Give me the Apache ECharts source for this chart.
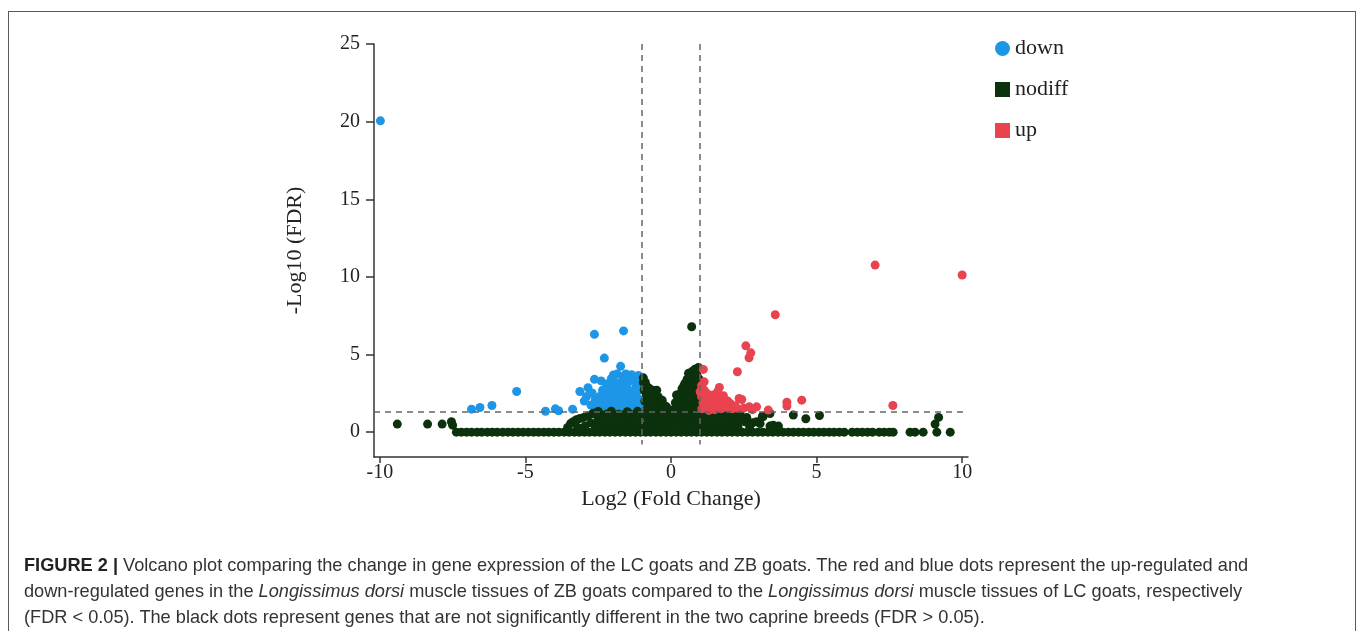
<!DOCTYPE html>
<html>
<head>
<meta charset="utf-8">
<script src="https://cdn.jsdelivr.net/npm/echarts@6/dist/echarts.min.js"></script>
<style>
  html, body { margin: 0; padding: 0; background: #fff; width: 1360px; height: 631px; overflow: hidden; }
  #frame { position: absolute; left: 8px; top: 11px; width: 1346px; height: 700px; border: 1.5px solid #5a5a5a; border-bottom: none; }
  #chart { position: absolute; left: 0; top: 0; width: 1360px; height: 631px; }
  #caption { position: absolute; left: 24px; top: 552px; font-family: "Liberation Sans", Arial, sans-serif; font-size: 18.2px; line-height: 26px; color: #333; white-space: nowrap; }
  #caption b { color: #222; }
</style>
</head>
<body>
<div id="frame"></div>
<div id="chart"></div>
<div id="caption"><b>FIGURE 2 |</b> Volcano plot comparing the change in gene expression of the LC goats and ZB goats. The red and blue dots represent the up-regulated and<br>down-regulated genes in the <i>Longissimus dorsi</i> muscle tissues of ZB goats compared to the <i>Longissimus dorsi</i> muscle tissues of LC goats, respectively<br>(FDR &lt; 0.05). The black dots represent genes that are not significantly different in the two caprine breeds (FDR &gt; 0.05).</div>
<script>
// ---- tick labels ----
const xTicks = [-10, -5, 0, 5, 10];
const yTicks = [0, 5, 10, 15, 20, 25];
const fcCut = [-1, 1];
const fdrCut = 1.301;

// ---- down-regulated genes [log2FC, -log10FDR] ----
const downPoints = [
  [-9.98,20.05],
  [-6.85,1.48],[-6.56,1.59],[-6.15,1.72],[-5.3,2.62],[-4.31,1.35],[-3.97,1.5],[-3.86,1.38],[-3.38,1.48],
  [-2.63,6.3],[-1.63,6.52],[-2.29,4.77],[-1.73,4.24],
  [-2.63,3.4],[-2.21,3.1],[-3.13,2.62],[-2.85,2.86],[-2.71,2.52],[-2.98,2.0],[-2.56,1.53],[-2.39,1.59],
  [-1.98,3.68],[-1.66,3.35],[-1.46,3.57],[-1.24,3.46],
  [-2.5,1.9],[-2.45,2.3],[-2.4,1.45],[-2.35,2.7],[-2.3,2.05],[-2.25,1.6],[-2.2,2.45],[-2.15,1.85],
  [-2.1,2.9],[-2.05,2.2],[-2.0,1.5],[-1.95,2.6],[-1.9,3.2],[-1.9,1.8],[-1.85,2.35],[-1.8,3.0],
  [-1.8,1.55],[-1.75,2.75],[-1.7,2.05],[-1.65,3.6],[-1.65,1.45],[-1.6,2.5],[-1.55,3.15],[-1.55,1.85],
  [-1.5,2.25],[-1.5,2.85],[-1.45,1.5],[-1.4,3.3],[-1.4,2.6],[-1.35,2.0],[-1.3,3.55],[-1.3,1.65],
  [-1.25,2.4],[-1.2,2.95],[-1.2,1.9],[-1.15,3.25],[-1.15,2.2],[-1.1,1.5],[-1.1,2.7],[-1.08,3.5],
  [-1.06,2.0],[-1.05,1.6],[-1.05,3.0],
  [-2.6,2.1],[-2.75,1.75],[-2.9,2.3],[-2.4,3.3],[-2.05,3.45],[-1.85,3.75],[-1.55,3.75],[-1.35,3.7],[-1.12,3.65]
];

// ---- not differential: outliers and the baseline row ----
const nodiffOutliers = [
  [-9.4,0.52],[-8.36,0.52],[-7.86,0.52],[-7.54,0.67],[-7.5,0.45],
  [9.07,0.52],[9.19,0.95],[8.21,0],[8.38,0],[8.66,0],[9.13,0],[9.59,0],
  [2.54,0.67],[2.8,0.6],[2.94,0.67],[3.06,0.55],[3.16,0.99],[2.37,1.2],[3.4,1.2],[3.51,0.45],
  [3.4,0.39],[3.69,0.39],[3.14,1.03],[4.2,1.1],[4.63,0.86],[5.1,1.07],[2.6,0.95],[2.7,0.35],
  [0.71,6.79]
];
const nodiffBaseX = [
  -7.37,-7.2,-7.02,-6.85,-6.66,-6.5,-6.31,-6.14,-5.97,-5.78,-5.6,-5.43,-5.25,-5.08,-4.9,-4.72,
  -4.55,-4.37,-4.2,-4.02,-3.85,-3.67,-3.5,-3.32,-3.15,-2.97,-2.8,-2.62,-2.45,-2.27,-2.1,-1.92,
  -1.75,-1.57,-1.4,-1.22,-1.05,-0.87,-0.7,-0.52,-0.35,-0.17,0,0.18,0.35,0.53,0.7,0.88,1.05,1.23,
  1.4,1.58,1.75,1.93,2.1,2.28,2.45,2.63,2.8,2.98,3.15,3.33,3.5,3.68,3.85,4.03,4.2,4.38,4.55,4.73,
  4.9,5.08,5.25,5.43,5.6,5.78,5.95,6.22,6.4,6.57,6.75,6.92,7.15,7.32,7.5,7.63
];
// ---- not differential: central clouds ----
const nodiffCloud = [
  [-3.55,0.3],[-3.45,0.55],[-3.36,0.67],[-3.25,0.8],[-3.13,0.88],[-3.0,0.95],[-2.85,1.05],[-2.68,1.22],
  [-2.75,0.6],[-2.95,0.4],[-3.2,0.3],
  [-2.6,0.35],[-2.4,0.38],[-2.2,0.33],[-2.0,0.36],[-1.8,0.34],[-1.6,0.37],[-1.4,0.35],[-1.2,0.33],[-1.0,0.36],
  [-2.5,0.75],[-2.3,0.72],[-2.1,0.77],[-1.9,0.74],[-1.7,0.76],[-1.5,0.73],[-1.3,0.75],[-1.1,0.78],
  [-2.6,1.15],[-2.4,1.12],[-2.2,1.17],[-2.0,1.14],[-1.8,1.16],[-1.6,1.13],[-1.4,1.15],[-1.2,1.18],[-1.0,1.14],
  [-2.5,1.33],[-2.05,1.35],[-1.5,1.32],[-1.15,1.34],
  [-0.95,3.5],[-0.88,3.2],[-0.92,2.7],[-0.8,2.9],[-0.85,2.3],[-0.75,2.55],[-0.7,2.1],[-0.62,2.7],
  [-0.55,2.4],[-0.49,2.7],[-0.44,2.28],[-0.38,1.95],[-0.3,2.05],[-0.22,1.7],[-0.15,1.63],[-0.08,1.3],
  [0.0,1.1],[0.08,1.45],[0.15,1.9],[0.19,2.39],[0.25,2.1],[0.32,2.5],[0.38,2.8],[0.44,3.0],[0.48,3.14],
  [0.55,3.4],[0.6,3.79],[0.66,3.55],[0.72,3.9],[0.82,4.05],[0.88,3.7],[0.94,4.17],[0.97,3.4],
  [-0.9,0.4],[-0.7,0.42],[-0.5,0.38],[-0.3,0.41],[-0.1,0.39],[0.1,0.4],[0.3,0.42],[0.5,0.38],[0.7,0.41],[0.9,0.4],
  [-0.8,0.8],[-0.6,0.78],[-0.4,0.82],[-0.2,0.79],[0.0,0.8],[0.2,0.81],[0.4,0.78],[0.6,0.8],[0.8,0.82],[1.0,0.79],
  [-0.9,1.2],[-0.7,1.22],[-0.5,1.18],[-0.3,1.21],[-0.1,1.19],[0.1,1.2],[0.3,1.22],[0.5,1.18],[0.7,1.21],[0.9,1.2],
  [-0.8,1.6],[-0.6,1.62],[-0.4,1.58],[-0.25,1.6],[0.25,1.61],[0.4,1.59],[0.6,1.6],[0.8,1.62],[0.95,1.58],
  [-0.9,2.0],[-0.7,2.02],[-0.5,1.98],[0.3,2.0],[0.5,2.01],[0.7,1.99],[0.9,2.02],
  [-0.85,2.4],[-0.65,2.38],[0.4,2.4],[0.6,2.42],[0.8,2.39],[0.95,2.41],
  [-0.9,2.8],[-0.75,2.82],[0.5,2.78],[0.7,2.8],[0.9,2.81],
  [-0.95,3.2],[0.65,3.18],[0.8,3.21],[0.75,3.6],[0.9,3.62],
  [1.1,0.35],[1.3,0.37],[1.5,0.34],[1.7,0.36],[1.9,0.35],[2.1,0.38],[2.3,0.34],
  [1.2,0.75],[1.4,0.77],[1.6,0.74],[1.8,0.76],[2.0,0.73],[2.2,0.75],[2.4,0.77],
  [1.1,1.15],[1.3,1.17],[1.5,1.14],[1.7,1.16],[1.9,1.13],[2.1,1.15],[2.3,1.12]
];

// ---- up-regulated genes ----
const upPoints = [
  [7.01,10.76],[10.0,10.12],[3.58,7.56],[2.57,5.56],[2.74,5.11],[2.68,4.79],[2.28,3.89],[1.11,4.04],
  [1.14,3.24],[1.66,2.88],[2.34,2.17],[2.43,2.1],[3.98,1.93],[3.98,1.68],[4.49,2.06],[7.62,1.72],
  [2.94,1.63],[3.34,1.42],[2.69,1.63],
  [1.05,3.0],[1.14,2.7],[1.23,2.5],[1.3,2.2],[1.05,2.3],[1.1,1.9],[1.2,1.6],[1.34,2.0],[1.4,1.7],
  [1.45,2.4],[1.5,1.45],[1.56,2.2],[1.6,1.8],[1.7,2.05],[1.72,1.5],[1.8,1.75],[1.9,1.6],[1.95,2.0],
  [2.03,1.85],[2.1,1.5],[2.2,1.7],[2.26,1.55],[1.3,1.4],[1.06,1.5],[1.0,2.6],[1.6,2.6],[1.8,2.35],
  [2.5,1.55],[2.8,1.45]
];

const nodiffPoints = nodiffBaseX.map(x => [x, 0]).concat(nodiffOutliers, nodiffCloud);

const serif = '"Liberation Serif", "Times New Roman", serif';
const chart = echarts.init(document.getElementById('chart'), null, { renderer: 'canvas' });
chart.setOption({
  animation: false,
  backgroundColor: 'transparent',
  grid: { left: 374, right: 392, top: 44, bottom: 174 },
  legend: {
    orient: 'vertical', left: 990, top: 31, itemWidth: 15, itemHeight: 15, itemGap: 16,
    textStyle: { fontFamily: serif, fontSize: 22, color: '#222', lineHeight: 25 },
    data: [{ name: 'down', icon: 'circle' }, { name: 'nodiff', icon: 'rect' }, { name: 'up', icon: 'rect' }]
  },
  xAxis: {
    type: 'value', min: -10.2, max: 10.2,
    splitLine: { show: false },
    axisLine: { show: true, onZero: false, lineStyle: { color: '#333', width: 1.5 } },
    axisTick: { show: true, length: 6, customValues: xTicks, lineStyle: { color: '#333', width: 1.5 } },
    axisLabel: { customValues: xTicks, fontFamily: serif, fontSize: 20, color: '#222', margin: 6 },
    name: 'Log2 (Fold Change)', nameLocation: 'middle', nameGap: 28,
    nameTextStyle: { fontFamily: serif, fontSize: 22, color: '#222' }
  },
  yAxis: {
    type: 'value', min: -1.6, max: 25,
    splitLine: { show: false },
    axisLine: { show: true, onZero: false, lineStyle: { color: '#333', width: 1.5 } },
    axisTick: { show: true, length: 8, customValues: yTicks, lineStyle: { color: '#333', width: 1.5 } },
    axisLabel: { customValues: yTicks, fontFamily: serif, fontSize: 20, color: '#222', margin: 14 },
    name: '-Log10 (FDR)', nameLocation: 'middle', nameGap: 68, nameRotate: 90,
    nameTextStyle: { fontFamily: serif, fontSize: 22, color: '#222' }
  },
  series: [
    { name: 'down', type: 'scatter', symbol: 'circle', symbolSize: 9, itemStyle: { color: '#1E96E8', opacity: 1 }, data: downPoints },
    { name: 'nodiff', type: 'scatter', symbol: 'circle', symbolSize: 9, itemStyle: { color: '#0B320C', opacity: 1 }, data: nodiffPoints,
      markLine: {
        silent: true, symbol: 'none', label: { show: false },
        lineStyle: { color: '#666', type: [6, 5], width: 1.5 },
        data: [
          [{ coord: [fcCut[0], 25] }, { coord: [fcCut[0], -0.8] }],
          [{ coord: [fcCut[1], 25] }, { coord: [fcCut[1], -0.8] }],
          { yAxis: fdrCut }
        ]
      }
    },
    { name: 'up', type: 'scatter', symbol: 'circle', symbolSize: 9, itemStyle: { color: '#E8434E', opacity: 1 }, data: upPoints }
  ]
});
</script>
</body>
</html>
